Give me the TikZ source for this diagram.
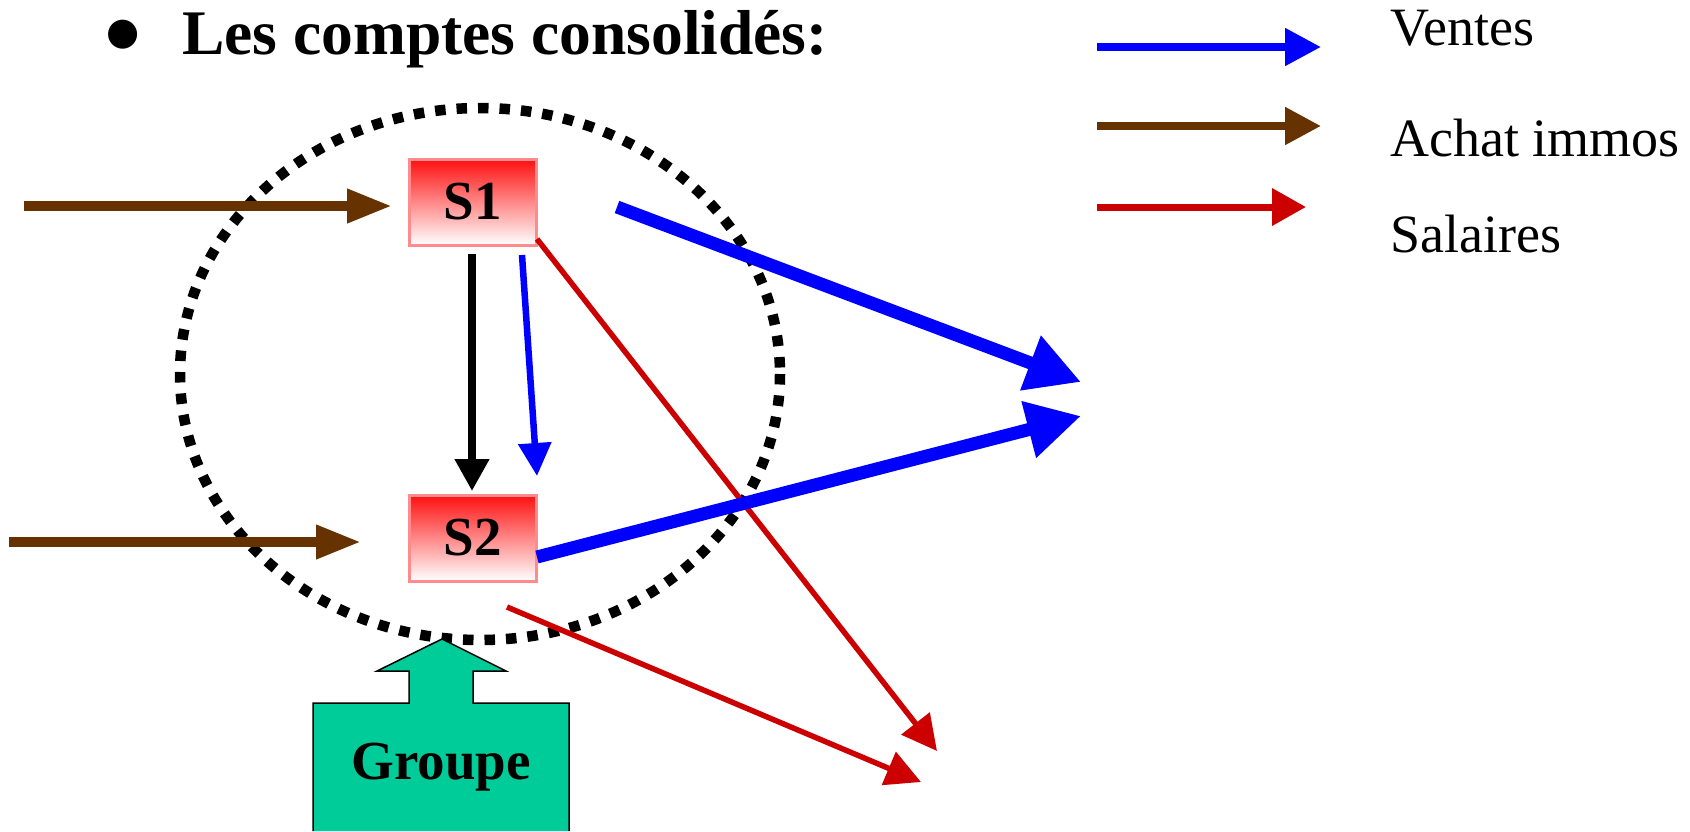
\documentclass[tikz,border=0pt]{standalone}
\usepackage{fontspec}
\setmainfont{Liberation Serif}
\newfontfamily\symfont{DejaVu Sans}
\usetikzlibrary{arrows.meta}
\definecolor{brownc}{HTML}{663300}
\definecolor{bluec}{HTML}{0000FF}
\definecolor{redc}{HTML}{CC0000}
\definecolor{greenc}{HTML}{00CC99}
\definecolor{boxborder}{HTML}{FF8C8C}
\definecolor{boxtop}{HTML}{FF1010}
\begin{document}
\begin{tikzpicture}[x=1pt,y=-1pt,
  sbox/.style={draw=boxborder, line width=3pt, top color=boxtop, bottom color=white,
    minimum width=127pt, minimum height=86pt, inner sep=0pt,
    font=\fontsize{55}{60}\selectfont\bfseries},
  brownarrow/.style={draw=brownc, line width=10pt, -{Triangle[length=45pt,width=32pt]}},
  legarrow/.style={line width=8pt, -{Triangle[length=36pt,width=36pt]}},
  legtext/.style={anchor=base west, inner sep=0pt, font=\fontsize{54}{60}\selectfont},
  bigblue/.style={draw=bluec, line width=13pt, -{Triangle[length=54pt,width=55pt]}},
  redarrow/.style={draw=redc, line width=5.5pt, -{Triangle[length=35pt,width=35pt]}},
  dotring/.style={draw=black, line width=10.5pt, dash pattern=on 10.5pt off 11pt}
]
\useasboundingbox (0,0) rectangle (1690,831);
\fill[white] (0,0) rectangle (1690,831);

% title
\node[anchor=center, inner sep=0pt, font=\symfont\fontsize{38}{40}\selectfont] (bullet) at (123.5,35) {●};
\node[anchor=base west, inner sep=0pt, font=\fontsize{63.5}{72}\selectfont\bfseries] (title) at (182,54) {Les comptes consolidés:};

% dotted ring
\draw[dotring] (480,374) ellipse [x radius=300, y radius=266];

% boxes
\node[sbox] (S1) at (472.5,202) {S1};
\node[sbox] (S2) at (472.5,538) {S2};

% groupe
\fill[greenc, draw=black, line width=1.5pt] (313,831) -- (313,703) -- (409,703) -- (409,671) -- (377,671) -- (442,639)
  -- (506,671) -- (473,671) -- (473,703) -- (569,703) -- (569,831);
\node[inner sep=0pt, font=\fontsize{55}{60}\selectfont\bfseries] (groupe) at (441,767) {Groupe};

% coordinates
\coordinate (inA) at (24,206);
\coordinate (inB) at (9,542);
\coordinate (tipA) at (392,206);
\coordinate (tipB) at (361,542);
\coordinate (bl1s) at (617,207);
\coordinate (bl1e) at (1081,382);
\coordinate (bl2s) at (537,557);
\coordinate (bl2e) at (1081,416);
\coordinate (r1s) at (537,239);
\coordinate (r1e) at (937,751);
\coordinate (r2s) at (507,607);
\coordinate (r2e) at (921,782);
\coordinate (tbs) at (522,255);
\coordinate (tbe) at (537,476);
\coordinate (bks) at (472,254);
\coordinate (bke) at (472,491);

% arrows
\draw[brownarrow] (inA) -- (tipA);
\draw[brownarrow] (inB) -- (tipB);
\draw[black, line width=7.5pt, -{Triangle[length=32pt,width=33pt]}] (bks) -- (bke);
\draw[bluec, line width=6.5pt, -{Triangle[length=33pt,width=32pt]}] (tbs) -- (tbe);
\draw[redarrow] (r1s) -- (r1e);
\draw[redarrow] (r2s) -- (r2e);
\draw[bigblue] (bl1s) -- (bl1e);
\draw[bigblue] (bl2s) -- (bl2e);

% legend
\coordinate (lg1s) at (1097,47);  \coordinate (lg1e) at (1321,47);
\coordinate (lg2s) at (1097,126); \coordinate (lg2e) at (1321,126);
\coordinate (lg3s) at (1097,207); \coordinate (lg3e) at (1306,207);
\draw[legarrow, bluec] (lg1s) -- (lg1e);
\draw[legarrow, brownc] (lg2s) -- (lg2e);
\draw[redc, line width=7pt, -{Triangle[length=34pt,width=36pt]}] (lg3s) -- (lg3e);
\node[legtext] (ventes) at (1390,45) {Ventes};
\node[legtext] (achat) at (1390,156) {Achat immos};
\node[legtext] (salaires) at (1390,252) {Salaires};
\end{tikzpicture}
\end{document}
